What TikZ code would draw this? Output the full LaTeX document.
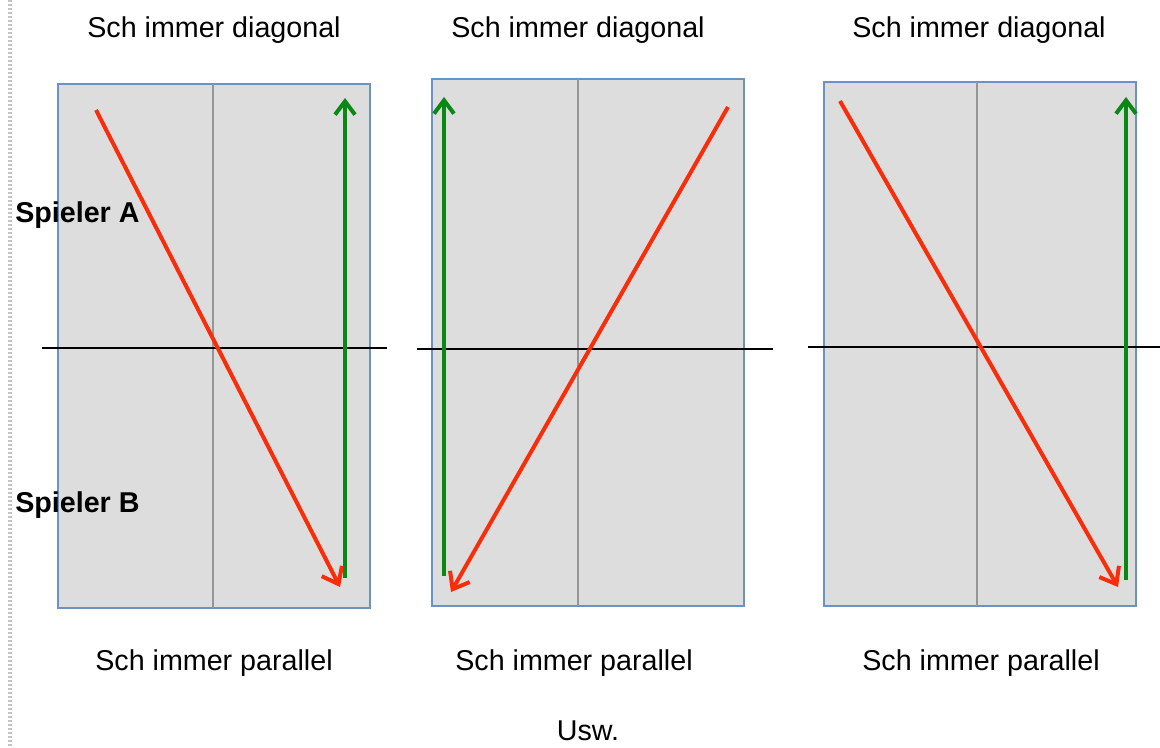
\documentclass[tikz,border=0pt]{standalone}
\usepackage{fontspec}
\setmainfont{Liberation Sans}
\usetikzlibrary{arrows.meta}
\definecolor{fieldfill}{RGB}{221,221,221}
\definecolor{fieldborder}{RGB}{108,145,196}
\definecolor{midgray}{RGB}{150,150,150}
\definecolor{ballred}{RGB}{250,45,10}
\definecolor{ballgreen}{RGB}{10,135,20}
\definecolor{dotgray}{RGB}{195,195,195}
\tikzset{
  field/.style={draw=fieldborder, fill=fieldfill, line width=1.9pt},
  midline/.style={draw=midgray, line width=2pt},
  netline/.style={draw=black, line width=2pt},
  redarrow/.style={draw=ballred, line width=3pt, -{Straight Barb[length=11pt,width=17pt]}},
  greenarrow/.style={draw=ballgreen, line width=3pt, -{Straight Barb[length=10pt,width=15pt]}},
  lbl/.style={font=\fontsize{21.5}{26}\selectfont, inner sep=0pt},
  blbl/.style={font=\fontsize{21.5}{26}\selectfont\bfseries, inner sep=0pt, anchor=west},
}
\begin{document}
\begin{tikzpicture}[x=0.75pt,y=-0.75pt]
\useasboundingbox (0,0) rectangle (1160,747);
\draw[dotgray, line width=3pt, dash pattern=on 1.5pt off 1.5pt] (10,0) -- (10,747);

% Panel 1
\draw[field] (58,84) rectangle (370,608);
\draw[midline] (213,84) -- (213,608);
\draw[netline] (42,348) -- (387,348);
\coordinate (r1s) at (96,110); \coordinate (r1e) at (340,587);
\coordinate (g1s) at (345,578); \coordinate (g1e) at (345,98);
\draw[redarrow] (r1s) -- (r1e);
\draw[greenarrow] (g1s) -- (g1e);

% Panel 2
\draw[field] (432,79) rectangle (744,606);
\draw[midline] (578,79) -- (578,606);
\draw[netline] (417,349) -- (773,349);
\coordinate (r2s) at (728,107); \coordinate (r2e) at (451,592);
\coordinate (g2s) at (444,576); \coordinate (g2e) at (444,97);
\draw[redarrow] (r2s) -- (r2e);
\draw[greenarrow] (g2s) -- (g2e);

% Panel 3
\draw[field] (824,82) rectangle (1136,606);
\draw[midline] (977,82) -- (977,606);
\draw[netline] (808,347) -- (1160,347);
\coordinate (r3s) at (840,101); \coordinate (r3e) at (1118,587);
\coordinate (g3s) at (1126,580); \coordinate (g3e) at (1126,97);
\draw[redarrow] (r3s) -- (r3e);
\draw[greenarrow] (g3s) -- (g3e);

% Labels
\node[lbl] (d1) at (214,30) {Sch immer diagonal};
\node[lbl] (d2) at (578,30) {Sch immer diagonal};
\node[lbl] (d3) at (979,30) {Sch immer diagonal};
\node[lbl] (p1) at (214,663) {Sch immer parallel};
\node[lbl] (p2) at (574,663) {Sch immer parallel};
\node[lbl] (p3) at (981,663) {Sch immer parallel};
\node[lbl] (usw) at (588,731) {Usw.};
\node[blbl] (sa) at (15,215) {Spieler A};
\node[blbl] (sb) at (15,505) {Spieler B};
\end{tikzpicture}
\end{document}
